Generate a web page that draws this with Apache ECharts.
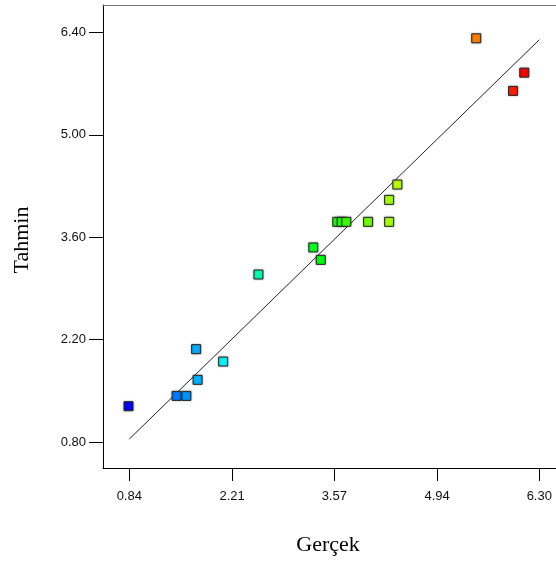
<!DOCTYPE html>
<html>
<head>
<meta charset="utf-8">
<script src="https://cdn.jsdelivr.net/npm/echarts@6/dist/echarts.min.js"></script>
<style>
  html, body { margin: 0; padding: 0; background: #fff; }
  #chart { width: 556px; height: 563px; }
</style>
</head>
<body>
<div id="chart"></div>
<script>
// Actual (Gerçek) vs predicted (Tahmin) values
const actual    = [0.83, 1.47, 1.60, 1.73, 1.75, 2.09, 2.56, 3.29, 3.39, 3.61, 3.67, 3.73, 4.02, 4.30, 4.30, 4.41, 5.46, 5.95, 6.10];
const predicted = [1.29, 1.43, 1.43, 2.07, 1.65, 1.90, 3.09, 3.46, 3.29, 3.81, 3.81, 3.81, 3.81, 3.81, 4.11, 4.32, 6.32, 5.60, 5.85];

// Tick values shown on each axis
const xTicks = [0.84, 2.21, 3.57, 4.94, 6.30];
const yTicks = [0.80, 2.20, 3.60, 5.00, 6.40];

// Ends of the y = x reference line
const diagonal = [0.84, 6.30];

const points = actual.map((v, i) => [v, predicted[i]]);

const chart = echarts.init(document.getElementById('chart'));

const tickLabel = {
  fontFamily: 'Liberation Sans, Arial, sans-serif',
  fontSize: 13,
  color: '#111',
  formatter: v => Number(v).toFixed(2)
};

chart.setOption({
  animation: false,
  backgroundColor: '#fff',
  grid: { left: 103, top: 5, width: 470, height: 463, outerBoundsMode: 'none', containLabel: false },
  visualMap: {
    show: false,
    type: 'continuous',
    seriesIndex: 0,
    dimension: 0,
    min: Math.min(...actual),
    max: Math.max(...actual),
    inRange: { color: ['#0000ff', '#00ffff', '#00ff00', '#ffff00', '#ff0000'] }
  },
  xAxis: [{
    type: 'value',
    min: 0.49,
    max: 6.749,
    splitLine: { show: false },
    axisLine: { show: true, onZero: false, lineStyle: { color: '#000', width: 1 } },
    axisTick: { show: true, length: 13, customValues: xTicks, lineStyle: { color: '#000' } },
    axisLabel: Object.assign({ margin: 22, customValues: xTicks }, tickLabel)
  }, {
    type: 'value',
    position: 'top',
    min: 0.49,
    max: 6.749,
    splitLine: { show: false },
    axisLine: { show: true, onZero: false, lineStyle: { color: '#777', width: 1 } },
    axisTick: { show: false },
    axisLabel: { show: false }
  }],
  yAxis: {
    type: 'value',
    min: 0.4445,
    max: 6.775,
    splitLine: { show: false },
    axisLine: { show: true, onZero: false, lineStyle: { color: '#000', width: 1 } },
    axisTick: { show: true, length: 14, customValues: yTicks, lineStyle: { color: '#000' } },
    axisLabel: Object.assign({ margin: 17, customValues: yTicks }, tickLabel)
  },
  series: [{
    type: 'scatter',
    data: points,
    symbol: 'rect',
    symbolSize: 9,
    itemStyle: {
      borderColor: '#2a2a2a',
      borderWidth: 1,
      opacity: 1,
      shadowBlur: 2,
      shadowColor: 'rgba(0,0,0,0.35)'
    },
    z: 3
  }, {
    type: 'line',
    data: diagonal.map(v => [v, v]),
    symbol: 'none',
    silent: true,
    lineStyle: { color: '#222', width: 1 },
    z: 2
  }],
  graphic: [{
    type: 'text',
    x: 328,
    y: 545,
    style: {
      text: 'Gerçek',
      font: '22px "Liberation Serif", "Times New Roman", serif',
      fill: '#000',
      align: 'center',
      verticalAlign: 'middle'
    }
  }, {
    type: 'text',
    x: 22,
    y: 240,
    rotation: Math.PI / 2,
    style: {
      text: 'Tahmin',
      font: '22px "Liberation Serif", "Times New Roman", serif',
      fill: '#000',
      align: 'center',
      verticalAlign: 'middle'
    }
  }]
});
</script>
</body>
</html>
